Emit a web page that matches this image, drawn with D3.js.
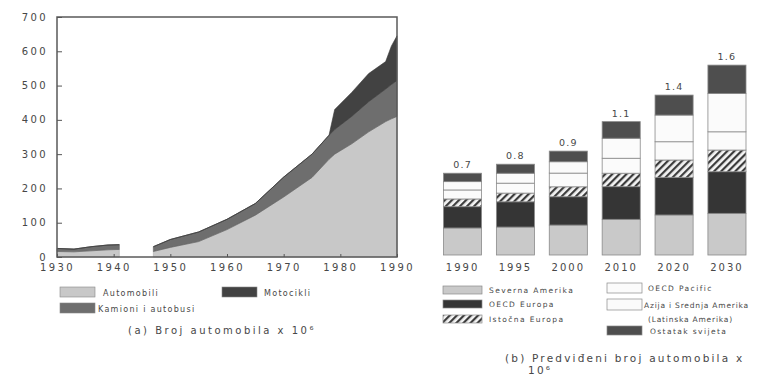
<!DOCTYPE html>
<html>
<head>
<meta charset="utf-8">
<script src="https://cdn.jsdelivr.net/npm/d3@7"></script>
<style>
  html, body { margin: 0; padding: 0; background: #fff; }
  svg { display: block; }
  text { font-family: "DejaVu Sans", sans-serif; fill: #474747; }
</style>
</head>
<body>
<svg id="chart" width="761" height="376"></svg>
<script>
// ---- (a) vehicles in use, millions (gap = war years without data) ----
const years      = [1930, 1933, 1936, 1939, 1941, 1944, 1947, 1950, 1955, 1960, 1965, 1970, 1975, 1978, 1979, 1982, 1985, 1988, 1989, 1990];
const automobili = [16, 15, 18, 21, 22, null, 16, 28, 45, 80, 122, 175, 232, 285, 300, 330, 365, 395, 403, 410];
const kamioni    = [9, 8, 12, 14, 14, null, 14, 23, 28, 30, 34, 58, 68, 70, 72, 80, 88, 95, 100, 105];
const motocikli  = [0, 0, 0, 0, 0, null, 0, 0, 0, 0, 0, 0, 0, 0, 58, 70, 82, 80, 112, 130];
const yTicksA = [0, 100, 200, 300, 400, 500, 600, 700];
const xTicksA = [1930, 1940, 1950, 1960, 1970, 1980, 1990];

// ---- (b) projected cars by region, millions ----
const barYears       = ["1990", "1995", "2000", "2010", "2020", "2030"];
const severnaAmerika = [231, 239, 256, 305, 342, 356];
const oecdEuropa     = [182, 216, 242, 279, 322, 356];
const istocnaEuropa  = [66, 74, 85, 115, 148, 185];
const oecdPacific    = [77, 85, 117, 128, 156, 156];
const azijaLatAm     = [71, 85, 97, 171, 228, 328];
const ostatakSvijeta = [72, 77, 91, 142, 171, 242];

const svg = d3.select("#chart");

// hatch for Eastern Europe
const defs = svg.append("defs");
const pat = defs.append("pattern")
  .attr("id", "hatch").attr("patternUnits", "userSpaceOnUse")
  .attr("width", 5).attr("height", 5)
  .attr("patternTransform", "rotate(45)");
pat.append("rect").attr("width", 5).attr("height", 5).attr("fill", "#f4f4f4");
pat.append("rect").attr("width", 2.2).attr("height", 5).attr("fill", "#3c3c3c");

const tickFont = g => g.selectAll("text")
  .attr("font-size", 10).attr("letter-spacing", 2.4)
  .attr("fill", "#474747").attr("font-family", "DejaVu Sans");

// ================= (a) stacked area =================
const xA = d3.scaleLinear().domain([1930, 1990]).range([57, 397]);
const yA = d3.scaleLinear().domain([0, 700]).range([257, 17]);

const rowsA = years.map((y, i) => ({
  year: y,
  automobili: automobili[i] == null ? NaN : automobili[i],
  kamioni: kamioni[i] == null ? NaN : kamioni[i],
  motocikli: motocikli[i] == null ? NaN : motocikli[i]
}));
const keysA = ["automobili", "kamioni", "motocikli"];
const colorA = { automobili: "#c8c8c8", kamioni: "#6e6e6e", motocikli: "#424242" };
const stackA = d3.stack().keys(keysA).value((d, k) => d[k])(rowsA);

const area = d3.area()
  .defined(d => isFinite(d[1]) && isFinite(d[0]))
  .x(d => xA(d.data.year))
  .y0(d => yA(d[0]))
  .y1(d => yA(d[1]));

const gA = svg.append("g");
gA.selectAll("path.layer").data(stackA).join("path")
  .attr("class", "layer")
  .attr("d", area)
  .attr("fill", d => colorA[d.key])
  .attr("stroke", d => d3.color(colorA[d.key]).darker(0.4))
  .attr("stroke-width", 0.6);

// frame
gA.append("rect")
  .attr("x", xA(1930)).attr("y", yA(700))
  .attr("width", xA(1990) - xA(1930)).attr("height", yA(0) - yA(700))
  .attr("fill", "none").attr("stroke", "#5a5a5a").attr("stroke-width", 1.5);

// axes
const yAxisA = d3.axisLeft(yA).tickValues(yTicksA).tickSize(-5).tickPadding(9);
gA.append("g").attr("transform", `translate(${xA(1930)},0)`).call(yAxisA)
  .call(g => g.select(".domain").remove())
  .call(g => g.selectAll("line").attr("stroke", "#555"))
  .call(tickFont)
  .call(g => g.selectAll("text").attr("dy", "0.3em"));

const xAxisA = d3.axisBottom(xA).tickValues(xTicksA).tickFormat(d3.format("d")).tickSize(-3).tickPadding(7);
gA.append("g").attr("transform", `translate(0,${yA(0)})`).call(xAxisA)
  .call(g => g.select(".domain").remove())
  .call(g => g.selectAll("line").attr("stroke", "#555"))
  .call(tickFont);

// legend (a)
const legA = [
  { key: "automobili", label: "Automobili", x: 60, y: 287, tx: 103 },
  { key: "motocikli", label: "Motocikli", x: 222, y: 287, tx: 264 },
  { key: "kamioni", label: "Kamioni i autobusi", x: 60, y: 303, tx: 98 }
];
const lgA = svg.append("g");
lgA.selectAll("rect").data(legA).join("rect")
  .attr("x", d => d.x).attr("y", d => d.y).attr("width", 35).attr("height", 10)
  .attr("fill", d => colorA[d.key]).attr("stroke", "#888").attr("stroke-width", 0.6);
lgA.selectAll("text").data(legA).join("text")
  .attr("x", d => d.tx).attr("y", d => d.y + 8.5)
  .attr("font-size", 8).attr("letter-spacing", 1.3)
  .text(d => d.label);

svg.append("text").attr("x", 222).attr("y", 334).attr("text-anchor", "middle")
  .attr("font-size", 10).attr("letter-spacing", 2.5)
  .text("(a) Broj automobila x 10⁶");

// ================= (b) stacked bars =================
const keysB = ["severnaAmerika", "oecdEuropa", "istocnaEuropa", "oecdPacific", "azijaLatAm", "ostatakSvijeta"];
const seriesB = { severnaAmerika, oecdEuropa, istocnaEuropa, oecdPacific, azijaLatAm, ostatakSvijeta };
const fillB = {
  severnaAmerika: "#c9c9c9",
  oecdEuropa: "#353535",
  istocnaEuropa: "url(#hatch)",
  oecdPacific: "#fbfbfb",
  azijaLatAm: "#fbfbfb",
  ostatakSvijeta: "#4e4e4e"
};
const rowsB = barYears.map((y, i) => {
  const r = { year: y };
  keysB.forEach(k => r[k] = seriesB[k][i]);
  r.total = d3.sum(keysB, k => r[k]);
  return r;
});
const stackB = d3.stack().keys(keysB)(rowsB);

const xB = d3.scaleBand().domain(barYears).range([443.5, 746]).paddingInner(0.28).paddingOuter(0);
const yB = d3.scaleLinear().domain([0, 1000]).range([255, 138]);

const gB = svg.append("g");
gB.selectAll("g.seg").data(stackB).join("g").attr("class", "seg")
  .attr("fill", d => fillB[d.key])
  .selectAll("rect").data(d => d).join("rect")
  .attr("x", d => xB(d.data.year))
  .attr("y", d => yB(d[1]))
  .attr("width", xB.bandwidth())
  .attr("height", d => yB(d[0]) - yB(d[1]))
  .attr("stroke", "#8a8a8a").attr("stroke-width", 0.8);

// totals above bars (billions)
gB.selectAll("text.total").data(rowsB).join("text").attr("class", "total")
  .attr("x", d => xB(d.year) + xB.bandwidth() / 2)
  .attr("y", d => yB(d.total) - 5)
  .attr("text-anchor", "middle").attr("font-size", 9.5).attr("letter-spacing", 1.2)
  .text(d => d3.format(".1f")(d.total / 1000));

const xAxisB = d3.axisBottom(xB).tickSize(0).tickPadding(9);
gB.append("g").attr("transform", `translate(0,${yB(0)})`).call(xAxisB)
  .call(g => g.select(".domain").remove())
  .call(tickFont)
  .call(g => g.selectAll("text").attr("letter-spacing", 2));

// legend (b)
const legB = [
  { key: "severnaAmerika", label: ["Severna Amerika"], x: 443, y: 286, w: 39, h: 8, tx: 489, ls: 1.4 },
  { key: "oecdEuropa", label: ["OECD Europa"], x: 443, y: 300, w: 39, h: 8, tx: 489, ls: 1.4 },
  { key: "istocnaEuropa", label: ["Istočna Europa"], x: 443, y: 315, w: 39, h: 8, tx: 489, ls: 1.4 },
  { key: "oecdPacific", label: ["OECD Pacific"], x: 607, y: 283, w: 35, h: 10, tx: 648, ls: 1.4 },
  { key: "azijaLatAm", label: ["Azija i Srednja Amerika", "(Latinska Amerika)"], x: 607, y: 299, w: 35, h: 11, tx: 644, tx2: 648, ls: 0.8 },
  { key: "ostatakSvijeta", label: ["Ostatak svijeta"], x: 607, y: 326, w: 35, h: 9, tx: 650, ls: 1.4 }
];
const lgB = svg.append("g");
lgB.selectAll("rect").data(legB).join("rect")
  .attr("x", d => d.x).attr("y", d => d.y).attr("width", d => d.w).attr("height", d => d.h)
  .attr("fill", d => fillB[d.key]).attr("stroke", "#8a8a8a").attr("stroke-width", 0.7);
lgB.selectAll("text").data(legB).join("text")
  .attr("y", d => d.y + d.h / 2 + 3)
  .attr("font-size", 7.5).attr("letter-spacing", d => d.ls)
  .each(function (d) {
    const t = d3.select(this);
    d.label.forEach((s, i) => t.append("tspan")
      .attr("x", i ? d.tx2 : d.tx)
      .attr("dy", i ? 14 : 0).text(s));
  });

svg.append("text").attr("x", 505).attr("y", 362)
  .attr("font-size", 10.5).attr("letter-spacing", 2.2)
  .text("(b) Predviđeni broj automobila x");
svg.append("text").attr("x", 528).attr("y", 374)
  .attr("font-size", 10.5).attr("letter-spacing", 2.2)
  .text("10⁶");
</script>
</body>
</html>
